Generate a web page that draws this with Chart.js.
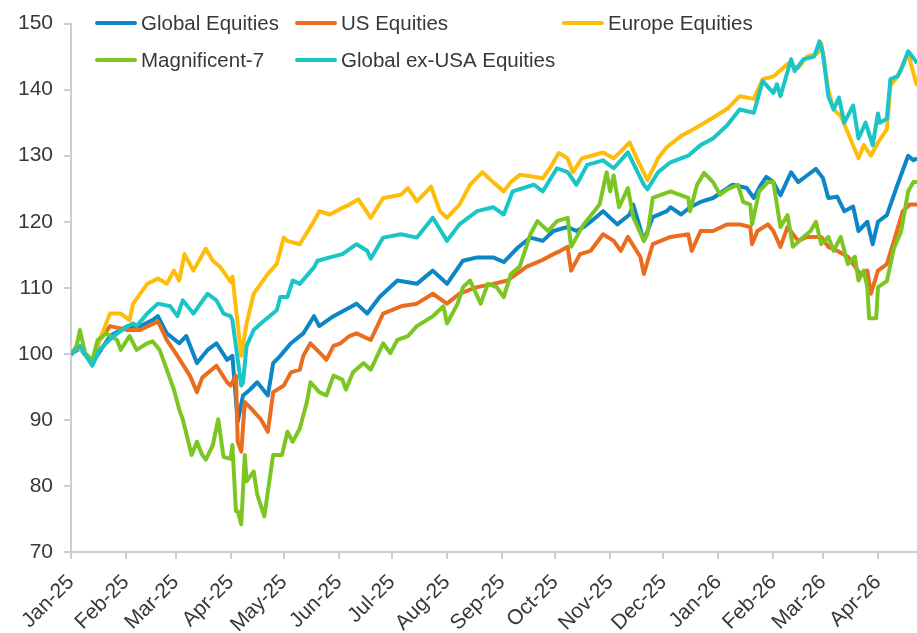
<!DOCTYPE html>
<html>
<head>
<meta charset="utf-8">
<script src="https://cdn.jsdelivr.net/npm/chart.js@4.4.1/dist/chart.umd.min.js"></script>
<style>
html, body { margin: 0; padding: 0; background: #fff; }
</style>
</head>
<body>
<canvas id="myChart" width="917" height="633"></canvas>
<script>
// x values are days counted from 1 Jan 2025
let monthDays = [0, 31, 59, 90, 120, 151, 181, 212, 243, 273, 304, 334, 365, 396, 424, 455]
let monthLabels = ['Jan-25', 'Feb-25', 'Mar-25', 'Apr-25', 'May-25', 'Jun-25', 'Jul-25', 'Aug-25',
    'Sep-25', 'Oct-25', 'Nov-25', 'Dec-25', 'Jan-26', 'Feb-26', 'Mar-26', 'Apr-26']
let lastDay = 477
let yTicks = [70, 80, 90, 100, 110, 120, 130, 140, 150]

let globalDays = [0,5,12,22,32,39,46,49,54,61,65,71,77,82,88,91,94,97,101,105,111,114,118,124,131,137,140,148,161,167,
    174,184,195,204,212,221,229,238,244,252,259,266,272,280,285,289,293,300,308,315,317,323,328,336,338,344,349,355,362,373,
    381,385,389,392,396,400,406,410,415,420,424,427,432,436,441,444,449,452,455,460,466,472,475,477]
let globalVals = [100,100.8,98.6,102.7,104.2,104.2,105.1,105.7,103.1,101.6,102.7,98.6,100.6,101.6,99.1,99.7,89.7,93.7,94.6,95.7,
    93.7,98.6,99.7,101.6,103.1,105.7,104.2,105.7,107.6,106.1,108.6,111.1,110.6,112.6,110.6,114.1,114.6,114.6,113.9,116.1,
    117.6,117.1,118.6,119.2,118.6,119.2,120,121.6,119.6,121.1,122.6,117.1,120.7,121.6,122.2,121.1,122.2,123,123.6,125.6,
    125.1,123.6,125.6,126.8,126,124,127.5,126,127,128,126.6,123.6,123.8,121.6,122.3,118.6,120,116.6,120,121,
    125.6,130,129.3,129.6]

let usDays = [0,5,12,16,22,32,39,49,54,60,67,71,74,82,88,90,93,94,96,98,102,107,111,114,120,124,129,131,135,142,
    144,148,152,157,161,169,176,186,195,204,212,219,229,238,246,257,265,272,276,280,282,287,293,300,306,310,314,321,323,328,
    338,348,350,355,362,370,377,383,384,387,393,396,400,404,410,415,423,427,432,438,445,449,451,455,460,464,469,473,477]
let usVals = [100,101,98.5,102,104.2,103.6,103.6,104.9,102.1,99.7,96.7,94.2,96.4,98.2,95.7,95.2,96.7,86.7,85.2,92.7,
    91.6,90.1,88.2,94.2,95.2,97.2,97.6,99.7,101.6,99.7,99.1,101.2,101.6,102.7,103.1,102.1,106.1,107.2,107.6,109.1,
    107.6,109.1,110.1,110.6,111.1,113.2,114.1,115.1,115.6,116.2,112.6,115.1,115.6,118.1,117.1,115.6,117.7,114.7,112.1,116.6,
    117.7,118.1,115.6,118.6,118.6,119.6,119.6,119.2,116.6,118.6,119.6,118.6,116.2,119.2,117.1,117.7,117.7,116.2,115.6,114.7,
    112.1,112.6,109.1,112.6,113.6,117.1,121.6,122.6,122.6]

let europeDays = [0,3,8,12,16,22,28,33,35,43,49,54,58,61,64,69,76,80,84,90,91,96,99,103,107,111,116,120,122,129,
    137,140,146,153,157,162,169,176,186,190,195,203,208,212,219,225,232,238,244,248,253,261,266,270,275,280,283,288,295,300,
    306,315,319,325,331,336,344,351,361,370,377,385,390,396,404,410,415,421,423,427,430,434,438,444,447,451,455,460,462,466,
    472,475,477]
let europeVals = [99.7,101.2,100,98.8,102,106.1,106.1,105.1,107.6,110.6,111.4,110.6,112.6,111.1,115.1,112.6,115.9,114.1,113.2,110.9,
    111.7,99.7,104.6,109.1,110.6,112.1,113.6,117.6,117.1,116.6,120.1,121.6,121.1,122.1,122.6,123.4,120.6,123.6,124.1,125.1,
    123.1,125.3,121.6,120.6,122.6,125.6,127.5,126,124.6,126,127.1,126.8,126.6,128.1,130.4,129.6,127.5,129.6,130.1,130.5,
    129.6,132,129.6,126.3,129.6,131.3,133,134,135.6,137.1,139,138.6,141.6,142,143.9,143.3,145,145.5,147,140,
    137,136,133.5,129.6,131.6,130,132,134,140.6,142,145.5,142.5,140.6]

let mag7Days = [0,3,5,8,12,15,20,26,28,33,37,43,46,50,58,61,63,68,71,74,76,80,83,86,90,91,93,94,96,98,
    99,103,105,109,114,119,122,125,129,133,135,140,144,148,153,155,159,165,169,176,180,184,190,195,204,210,212,218,221,225,
    231,235,240,244,248,253,259,263,269,274,280,282,289,295,298,302,304,306,309,314,317,323,325,328,338,348,349,353,357,362,
    366,370,376,379,383,384,388,393,396,400,404,407,413,417,420,423,427,430,434,438,442,444,447,449,450,454,455,460,464,468,
    470,472,475,477]
let mag7Vals = [100,101,103.6,100.1,99,102.1,103.1,102.1,100.6,102.7,100.6,101.6,101.9,100.6,94.6,91.6,90.1,84.7,86.7,84.7,
    84,86.2,90.1,84.4,84.1,86.2,76.2,76.2,74.2,84.7,80.7,82.2,78.7,75.4,84.7,84.7,88.2,86.7,88.7,92.7,
    95.7,94.2,93.7,96.7,96.1,94.6,97.2,98.6,97.6,101.6,100.1,102.1,102.7,104.2,105.7,107.2,104.6,107.6,110.1,111.1,
    107.6,110.6,110.1,108.6,112.1,113.2,118.1,120.1,118.6,120.1,120.6,116.2,119.6,121.6,122.6,127.5,124.6,127,122.2,125.1,
    120.7,117.1,118.1,123.6,124.6,123.6,121.6,125.6,127.4,126,124.1,124.9,125.6,123,122.6,119.6,124.6,126,126,119.2,
    121,116.2,117.7,118.6,120,116.6,117.7,115.6,117.7,113.6,114.7,111.1,112.6,110.1,105.4,105.4,110.1,111,116,118.5,
    121.5,124.6,126,126]

let exUsaDays = [0,5,12,16,24,32,35,37,43,49,56,60,63,69,77,82,86,90,91,96,97,99,103,107,116,118,122,125,129,137,
    139,146,153,161,167,169,176,186,195,204,212,219,229,238,244,249,261,266,274,280,285,291,300,306,314,323,325,331,338,348,
    355,362,370,377,385,390,396,398,400,406,408,413,419,422,424,427,430,433,436,441,444,448,452,455,456,460,462,466,468,472,
    475,477]
let exUsaVals = [99.9,101.2,98.2,100.6,102.7,104.2,104.6,104.2,106.1,107.6,107.2,105.7,108.1,106.1,109.1,108.1,106.1,105.7,105.1,95.2,
    95.7,101.2,103.6,104.6,106.6,108.6,108.6,111.1,110.6,113.1,114.1,114.6,115.1,116.6,115.6,114.4,117.6,118.1,117.6,120.6,
    117.1,119.6,121.6,122.2,121.1,124.6,125.6,124.6,128.1,127.5,125.6,128.6,129.3,128.1,130.5,125.6,124.9,127.5,129,130,
    131.6,132.6,134.6,137,136.5,141.3,139.5,140.8,139,144.6,142.8,144.6,145,147.3,145.5,139,137,138.8,135,137.6,
    132.6,135,131.6,136.4,135,135.6,141.6,142,143,145.8,144.8,144]

let fontFamily = '"Liberation Sans", Arial, sans-serif'
let textColor = '#383838'
let axisColor = '#cbcfd4'

function toPoints(days, vals){
    return days.map((d, i) => ({ x: d, y: vals[i] }))
}

function series(label, days, vals, color, order){
    return {
        label: label,
        data: toPoints(days, vals),
        borderColor: color,
        backgroundColor: color,
        borderWidth: 4,
        pointRadius: 0,
        tension: 0,
        fill: false,
        borderJoinStyle: 'round',
        order: order
    }
}

// legend laid out in a grid over the top of the plot, like the original
let legendSpots = [[97, 23], [297, 23], [564, 23], [97, 60], [297, 60]]
const gridLegend = {
    id: 'gridLegend',
    afterDraw(chart){
        let ctx = chart.ctx
        ctx.save()
        ctx.font = '20.5px ' + fontFamily
        ctx.textBaseline = 'middle'
        chart.data.datasets.forEach((ds, i) => {
            let x = legendSpots[i][0], y = legendSpots[i][1]
            ctx.strokeStyle = ds.borderColor
            ctx.lineWidth = 4
            ctx.lineCap = 'round'
            ctx.beginPath()
            ctx.moveTo(x, y)
            ctx.lineTo(x + 38, y)
            ctx.stroke()
            ctx.fillStyle = textColor
            ctx.fillText(ds.label, x + 44, y + 1)
        })
        ctx.restore()
    }
}

new Chart('myChart', {
    type: 'line',
    data: {
        datasets: [
            series('Global Equities', globalDays, globalVals, '#0b86c6', 4),
            series('US Equities', usDays, usVals, '#ea6c1e', 3),
            series('Europe Equities', europeDays, europeVals, '#fdbd0a', 2),
            series('Magnificent-7', mag7Days, mag7Vals, '#7cc623', 1),
            series('Global ex-USA Equities', exUsaDays, exUsaVals, '#19c5c6', 0)
        ]
    },
    options: {
        responsive: false,
        animation: false,
        layout: { padding: { top: 17, left: 0, right: 0, bottom: 0 } },
        plugins: {
            legend: { display: false },
            tooltip: { enabled: false }
        },
        scales: {
            x: {
                type: 'linear',
                min: 0,
                max: lastDay,
                afterBuildTicks: s => { s.ticks = monthDays.map(d => ({ value: d })) },
                afterFit: s => { s.height = 81 },
                grid: { drawOnChartArea: false, tickLength: 7, color: axisColor, lineWidth: 2 },
                border: { color: axisColor, width: 2 },
                ticks: {
                    autoSkip: false,
                    minRotation: 45,
                    maxRotation: 45,
                    padding: 11,
                    color: textColor,
                    font: { family: fontFamily, size: 21 },
                    callback: v => monthLabels[monthDays.indexOf(v)]
                }
            },
            y: {
                min: 70,
                max: 150,
                afterBuildTicks: s => { s.ticks = yTicks.map(v => ({ value: v })) },
                afterFit: s => { s.width = 71 },
                grid: { drawOnChartArea: false, tickLength: 7, color: axisColor, lineWidth: 2 },
                border: { color: axisColor, width: 2 },
                ticks: {
                    padding: 11,
                    color: textColor,
                    font: { family: fontFamily, size: 21 }
                }
            }
        }
    },
    plugins: [gridLegend]
})
</script>
</body>
</html>
